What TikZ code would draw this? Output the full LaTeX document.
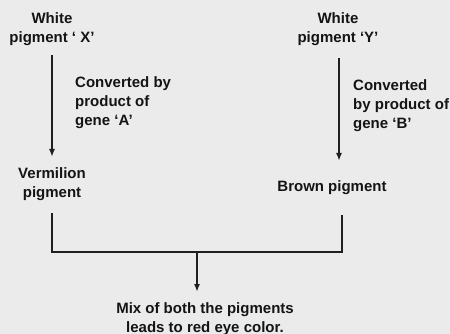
\documentclass[tikz,border=0pt]{standalone}
\usepackage{fontspec}
\setmainfont{Liberation Sans}
\usepackage{tikz}
\usetikzlibrary{arrows.meta,calc}

\begin{document}
\begin{tikzpicture}[x=1pt,y=-1pt,
    txt/.style={inner sep=0pt,font=\fontsize{15}{19}\selectfont\bfseries,text=black!92},
    arr/.style={-{Latex[length=8pt,width=6pt]},line width=1.6pt,draw=black!88},
    ln/.style={line width=1.6pt,draw=black!88}]
    \fill[black!8] (0,0) rectangle (450,334);
    \useasboundingbox (0,0) rectangle (450,334);

    \node[txt,align=center,anchor=north] (wx) at (52,12) {White\\pigment ` X'};
    \node[txt,align=center,anchor=north] (wy) at (338,12) {White\\pigment `Y'};
    \node[txt,align=left,anchor=north west] (ca) at (75,76) {Converted by\\product of\\gene `A'};
    \node[txt,align=left,anchor=north west] (cb) at (353,79) {Converted\\by product of\\gene `B'};
    \node[txt,align=center,anchor=north] (verm) at (52,167) {Vermilion\\pigment};
    \node[txt,anchor=north] (brown) at (332,180) {Brown pigment};
    \node[txt,align=center,anchor=north] (mix) at (205,302) {Mix of both the pigments\\leads to red eye color.};
    \coordinate (mid) at (197,252);

    \draw[arr,shorten <=10pt,shorten >=10pt] (wx.south) -- (verm.north);
    \draw[arr] ($(wy.south)+(1,13)$) -- ($(wy.south |- brown.north)+(1,-19)$);
    \draw[ln] ([yshift=-13pt]verm.south) |- (mid) -| ($(brown.south)+(10,21)$);
    \draw[arr,shorten >=10pt] (mid) -- (mid |- mix.north);
\end{tikzpicture}
\end{document}
